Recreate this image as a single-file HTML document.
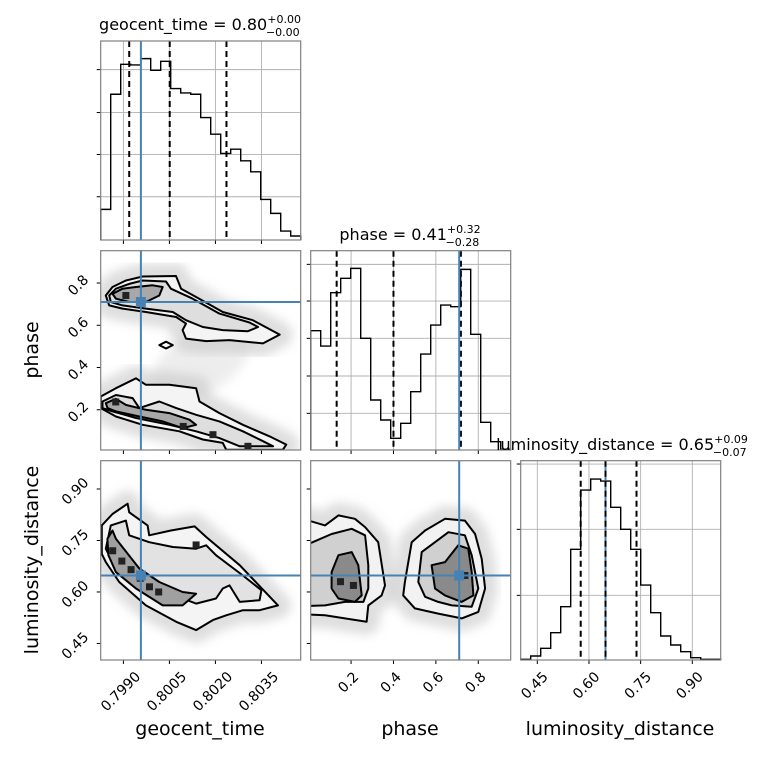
<!DOCTYPE html>
<html><head><meta charset="utf-8"><style>
html,body{margin:0;padding:0;background:#fff}
svg{display:block;font-family:"DejaVu Sans","Liberation Sans",sans-serif}
</style></head><body>
<svg id="fig" width="760" height="760" viewBox="0 0 760 760" xmlns="http://www.w3.org/2000/svg">
<defs>
<filter id="blur" x="-20%" y="-20%" width="140%" height="140%"><feGaussianBlur stdDeviation="5"/></filter>
<clipPath id="cA"><rect x="100.7" y="250.7" width="200" height="199.3"/></clipPath>
<clipPath id="cB"><rect x="100.7" y="460.7" width="200" height="199.3"/></clipPath>
<clipPath id="cC"><rect x="310.7" y="460.7" width="200" height="199.3"/></clipPath>
</defs>
</svg>
<script>
// ---------- data ----------
// geocent_time stored as u = (t - 0.7980) * 1e4
const gRange=[2.6,67.8], pRange=[0.0095,0.953], lRange=[0.4018,0.9824];
const histG=[92,438,528,526,545,510,537,455,442,438,368,318,260,273,238,205,122,80,27,12];
const histP=[358,312,472,515,545,335,150,90,35,80,175,288,375,435,430,542,347,83,25,2];
const histL=[2,12,35,82,160,332,510,543,537,458,392,332,225,142,72,45,25,7,2,2];
const histTop=598;
const histGTicks=[130,257,383,512];
const histPTicks=[110,222,335,447,557];
const histLTicks=[194,392,588];
const truthG=15.7, truthP=0.71, truthL=0.648;
const qG=[11.9,25.1,43.6], qP=[0.132,0.4,0.718], qL=[0.576,0.648,0.738];
const gTicks=[10,25,40,55], gTickLabels=["0.7990","0.8005","0.8020","0.8035"];
const pTicks=[0.2,0.4,0.6,0.8], pTickLabels=["0.2","0.4","0.6","0.8"];
const lTicks=[0.45,0.6,0.75,0.9], lTickLabels=["0.45","0.60","0.75","0.90"];
// contours panel A (u, phase)
const A_upOuter=[[4.27,0.741],[6.45,0.781],[10.81,0.812],[16.26,0.831],[27.16,0.833],[28.8,0.773],[33.7,0.734],[42.4,0.663],[52.2,0.624],[60.95,0.556],[55.5,0.514],[44.6,0.53],[37,0.525],[30.4,0.537],[29.3,0.577],[30.4,0.608],[27.2,0.639],[17.35,0.663],[9.72,0.679],[5.36,0.694]];
const A_upMid=[[5.36,0.741],[7.54,0.773],[11.9,0.796],[16.26,0.812],[23.9,0.807],[25.5,0.773],[32.6,0.726],[41.3,0.655],[51.1,0.613],[53.9,0.592],[50.6,0.572],[42.4,0.577],[35.9,0.592],[30.4,0.624],[26.1,0.663],[17.35,0.679],[9.72,0.694],[5.9,0.71]];
const A_upIn=[[6.45,0.749],[9.72,0.773],[14.1,0.781],[19.5,0.789],[22.8,0.781],[21.7,0.741],[17.35,0.71],[11.9,0.71],[7.54,0.726]];
const A_island=[[21.7,0.506],[23.9,0.522],[26.1,0.506],[23.9,0.49]];
const A_loOuter=[[2.64,0.263],[7.54,0.302],[14.1,0.349],[17.35,0.318],[25,0.318],[33.7,0.302],[34.8,0.239],[41.3,0.184],[48.96,0.129],[57.7,0.074],[63.1,0.035],[62,0.011],[43.5,0.011],[42.4,0.043],[35.9,0.059],[28.25,0.098],[16.26,0.129],[7.54,0.168],[2.64,0.208]];
const A_loMid=[[3.18,0.239],[7.54,0.27],[13,0.255],[15.17,0.208],[21.7,0.239],[27.2,0.208],[33.7,0.176],[41.3,0.145],[48.96,0.098],[55.5,0.051],[58.8,0.027],[47.9,0.027],[41.3,0.066],[33.7,0.098],[25,0.129],[14.1,0.161],[6.45,0.192],[3.18,0.208]];
const A_loIn=[[4.27,0.231],[7.54,0.252],[10.8,0.223],[17.35,0.2],[25,0.184],[31.5,0.153],[33.7,0.129],[29.3,0.113],[22.8,0.145],[15.17,0.168],[7.54,0.192],[4.81,0.208]];
const A_coreU=[10.8,7.5,39.2,50.6,29.5], A_coreV=[0.741,0.237,0.082,0.027,0.121];
// panel B (u, lum)
const B_outer=[[2.96,0.794],[6.45,0.827],[11.36,0.857],[11.9,0.832],[17.9,0.794],[18.4,0.765],[25.5,0.779],[33.2,0.791],[37,0.76],[47.9,0.678],[60.4,0.561],[54.4,0.547],[49,0.547],[43.5,0.532],[39.15,0.518],[33.7,0.489],[27.2,0.513],[17.35,0.561],[8.63,0.629],[4.27,0.687],[2.96,0.711]];
const B_mid=[[4.27,0.726],[5.9,0.794],[10.8,0.808],[11.9,0.765],[18.4,0.745],[26.1,0.731],[33.7,0.726],[37,0.736],[40.2,0.707],[48.96,0.648],[55,0.605],[54.4,0.576],[47.9,0.571],[44.6,0.619],[42.4,0.61],[40.2,0.581],[33.7,0.566],[29.3,0.581],[20.6,0.619],[11.9,0.648],[6.45,0.687]];
const B_in=[[4.8,0.755],[6.45,0.779],[7.54,0.755],[15.2,0.668],[21.7,0.629],[29.3,0.6],[33.7,0.595],[29.3,0.561],[22.8,0.561],[14.1,0.61],[7.54,0.658],[5.1,0.707]];
const B_coreU=[6.5,9.5,12.5,15.5,18.5,21.5,33.7], B_coreV=[0.72,0.69,0.665,0.64,0.615,0.6,0.737];
// panel C (phase, lum)
const C_lOuter=[[0.0,0.808],[0.077,0.794],[0.14,0.823],[0.218,0.813],[0.266,0.789],[0.328,0.745],[0.36,0.619],[0.344,0.59],[0.281,0.561],[0.273,0.513],[0.171,0.523],[0.077,0.532],[0.0,0.534]];
const C_lMid=[[0.0,0.74],[0.108,0.769],[0.203,0.784],[0.266,0.765],[0.281,0.678],[0.281,0.61],[0.258,0.571],[0.171,0.571],[0.077,0.561],[0.0,0.559]];
const C_lIn=[[0.108,0.658],[0.14,0.707],[0.203,0.716],[0.234,0.678],[0.25,0.59],[0.218,0.571],[0.14,0.581],[0.108,0.61]];
const C_rOuter=[[0.454,0.629],[0.486,0.745],[0.549,0.779],[0.643,0.813],[0.737,0.808],[0.785,0.769],[0.816,0.697],[0.832,0.61],[0.8,0.542],[0.722,0.523],[0.611,0.537],[0.501,0.552],[0.446,0.59]];
const C_rMid=[[0.517,0.629],[0.533,0.716],[0.596,0.745],[0.659,0.774],[0.737,0.765],[0.769,0.707],[0.8,0.61],[0.769,0.557],[0.675,0.561],[0.611,0.571],[0.549,0.586]];
const C_rIn=[[0.596,0.61],[0.58,0.678],[0.643,0.687],[0.706,0.736],[0.753,0.726],[0.769,0.658],[0.777,0.59],[0.722,0.571],[0.643,0.59]];
const C_coreP=[0.211,0.737,0.15], C_coreL=[0.619,0.648,0.63];

// ---------- drawing ----------
const svg=document.getElementById('fig');
const NS='http://www.w3.org/2000/svg';
function mk(tag,attrs,parent){const e=document.createElementNS(NS,tag);for(const k in attrs)e.setAttribute(k,attrs[k]);(parent||svg).appendChild(e);return e;}
function lin(d0,d1,r0,r1){return v=>r0+(v-d0)/(d1-d0)*(r1-r0);}
const cols=[[100.7,300.7],[310.7,510.7],[520.7,720.7]];
const rows=[[41,240],[250.7,450],[460.7,660]];
const sxG=lin(gRange[0],gRange[1],cols[0][0],cols[0][1]);
const sxP=lin(pRange[0],pRange[1],cols[1][0],cols[1][1]);
const sxL=lin(lRange[0],lRange[1],cols[2][0],cols[2][1]);
const syP=lin(pRange[0],pRange[1],rows[1][1],rows[1][0]);
const syL=lin(lRange[0],lRange[1],rows[2][1],rows[2][0]);
const BLUE='#4682b4';

function frame(c,r,name){
  const e=mk('rect',{x:cols[c][0],y:rows[r][0],width:200,height:rows[r][1]-rows[r][0],fill:'none',stroke:'#808080','stroke-width':1.2});
  
  
}
function grid(c,r,xs,sx,ys,sy,name){
  const g=mk('g',{});
  
  
  xs.forEach(v=>mk('line',{x1:sx(v),x2:sx(v),y1:rows[r][0],y2:rows[r][1],stroke:'#b0b0b0','stroke-width':0.9},g));
  ys.forEach(v=>mk('line',{x1:cols[c][0],x2:cols[c][1],y1:sy(v),y2:sy(v),stroke:'#b0b0b0','stroke-width':0.9},g));
}
function ticks(c,r,xs,sx,ys,sy){
  const g=mk('g',{stroke:'#000','stroke-width':1});
  
  
  xs.forEach(v=>mk('line',{x1:sx(v),x2:sx(v),y1:rows[r][1],y2:rows[r][1]+4},g));
  ys.forEach(v=>mk('line',{x1:cols[c][0]-4,x2:cols[c][0],y1:sy(v),y2:sy(v)},g));
}
function hist(c,vals,name){
  const x0=cols[c][0],x1=cols[c][1],r=c;
  const sy=lin(0,histTop,rows[r][1],rows[r][0]);
  const w=(x1-x0)/vals.length;
  let d='M'+x0+','+rows[r][1];
  vals.forEach((v,i)=>{d+=' L'+(x0+i*w)+','+sy(v)+' L'+(x0+(i+1)*w)+','+sy(v);});
  d+=' L'+x1+','+rows[r][1];
  const p=mk('path',{d:d,fill:'none',stroke:'#000','stroke-width':1.4});
  
  
  return sy;
}
function vline(x,r,name,dash,color){
  const e=mk('line',{x1:x,x2:x,y1:rows[r][0],y2:rows[r][1],stroke:color,'stroke-width':2,'stroke-dasharray':dash?'6,4':'none'});
  
  
}
function hline(y,c,name){
  const e=mk('line',{x1:cols[c][0],x2:cols[c][1],y1:y,y2:y,stroke:BLUE,'stroke-width':2});
  
  
}
function poly(pts,sx,sy,fill,g,name,halo){
  const d='M'+pts.map(p=>sx(p[0]).toFixed(1)+','+sy(p[1]).toFixed(1)).join(' L')+' Z';
  if(halo){const h=mk('path',{d:d,fill:'#cfcfcf',stroke:'#c4c4c4','stroke-width':26,'stroke-linejoin':'round',opacity:0.55,filter:'url(#blur)'},g);
    
    }
  const e=mk('path',{d:d,fill:fill,stroke:'#000','stroke-width':2,'stroke-linejoin':'round'},g);
  
  
}
function cores(us,vs,sx,sy,g,name){
  us.forEach((u,i)=>{const e=mk('rect',{x:sx(u)-3.5,y:sy(vs[i])-3.5,width:7,height:7,fill:'#222'},g);
    
    });
}
const gx=u=>sxG(u);

// --- diag 1
grid(0,0,gTicks,sxG,histGTicks,lin(0,histTop,rows[0][1],rows[0][0]),'grid-geocent-hist');
hist(0,histG,'hist-geocent-time');
ticks(0,0,gTicks,sxG,histGTicks,lin(0,histTop,rows[0][1],rows[0][0]));
qG.forEach((q,i)=>vline(sxG(q),0,'quantile-geocent-'+i,true,'#000'));
vline(sxG(truthG),0,'truth-geocent',false,BLUE);
frame(0,0,'panel-geocent-hist');
// --- diag 2
grid(1,1,pTicks,sxP,histPTicks,lin(0,histTop,rows[1][1],rows[1][0]),'grid-phase-hist');
hist(1,histP,'hist-phase');
ticks(1,1,pTicks,sxP,histPTicks,lin(0,histTop,rows[1][1],rows[1][0]));
qP.forEach((q,i)=>vline(sxP(q),1,'quantile-phase-'+i,true,'#000'));
vline(sxP(truthP),1,'truth-phase',false,BLUE);
frame(1,1,'panel-phase-hist');
// --- diag 3
grid(2,2,lTicks,sxL,histLTicks,lin(0,histTop,rows[2][1],rows[2][0]),'grid-lum-hist');
hist(2,histL,'hist-luminosity-distance');
ticks(2,2,lTicks,sxL,histLTicks,lin(0,histTop,rows[2][1],rows[2][0]));
vline(sxL(truthL),2,'truth-luminosity',false,BLUE);
qL.forEach((q,i)=>vline(sxL(q),2,'quantile-lum-'+i,true,'#000'));
frame(2,2,'panel-lum-hist');

// --- panel A
let gA=mk('g',{'clip-path':'url(#cA)'});


mk('ellipse',{cx:sxG(35),cy:syP(0.42),rx:55,ry:30,fill:'#d8d8d8',opacity:0.45,filter:'url(#blur)',transform:'rotate(-30 '+sxG(35)+' '+syP(0.42)+')'},gA);
poly(A_upOuter,gx,syP,'#f4f4f4',gA,'contour-a-upper-outer',true);
poly(A_loOuter,gx,syP,'#f4f4f4',gA,'contour-a-lower-outer',true);
poly(A_upMid,gx,syP,'#dedede',gA,'contour-a-upper-mid');
poly(A_loMid,gx,syP,'#dedede',gA,'contour-a-lower-mid');
poly(A_upIn,gx,syP,'#a8a8a8',gA,'contour-a-upper-inner');
poly(A_loIn,gx,syP,'#a8a8a8',gA,'contour-a-lower-inner');
poly(A_island,gx,syP,'#fff',gA,'contour-a-island');
cores(A_coreU,A_coreV,gx,syP,gA,'density-peak');
ticks(0,1,gTicks,sxG,pTicks,syP);
vline(sxG(truthG),1,'truth-geocent-a',false,BLUE);
hline(syP(truthP),0,'truth-phase-a');
mk('rect',{x:sxG(truthG)-5,y:syP(truthP)-5,width:10,height:10,fill:BLUE});
frame(0,1,'panel-geocent-phase');

// --- panel B
let gB=mk('g',{'clip-path':'url(#cB)'});


poly(B_outer,gx,syL,'#f4f4f4',gB,'contour-b-outer',true);
poly(B_mid,gx,syL,'#e2e2e2',gB,'contour-b-mid');
poly(B_in,gx,syL,'#a0a0a0',gB,'contour-b-inner');
cores(B_coreU,B_coreV,gx,syL,gB,'density-peak');
ticks(0,2,gTicks,sxG,lTicks,syL);
vline(sxG(truthG),2,'truth-geocent-b',false,BLUE);
hline(syL(truthL),0,'truth-lum-b');
mk('rect',{x:sxG(truthG)-5,y:syL(truthL)-5,width:10,height:10,fill:BLUE});
frame(0,2,'panel-geocent-lum');

// --- panel C
let gC=mk('g',{'clip-path':'url(#cC)'});


poly(C_lOuter,sxP,syL,'#f2f2f2',gC,'contour-c-left-outer',true);
poly(C_rOuter,sxP,syL,'#f2f2f2',gC,'contour-c-right-outer',true);
poly(C_lMid,sxP,syL,'#d0d0d0',gC,'contour-c-left-mid');
poly(C_rMid,sxP,syL,'#d0d0d0',gC,'contour-c-right-mid');
poly(C_lIn,sxP,syL,'#8a8a8a',gC,'contour-c-left-inner');
poly(C_rIn,sxP,syL,'#8a8a8a',gC,'contour-c-right-inner');
cores(C_coreP,C_coreL,sxP,syL,gC,'density-peak');
ticks(1,2,pTicks,sxP,lTicks,syL);
vline(sxP(truthP),2,'truth-phase-c',false,BLUE);
hline(syL(truthL),1,'truth-lum-c');
mk('rect',{x:sxP(truthP)-5,y:syL(truthL)-5,width:10,height:10,fill:BLUE});
frame(1,2,'panel-phase-lum');

// ---------- labels ----------
function txt(x,y,s,size,opts){
  const e=mk('text',Object.assign({x:x,y:y,'font-size':size,fill:'#000','text-anchor':'middle'},opts||{}));
  e.textContent=s;return e;
}
function xTickLabels(ticksArr,labels,sx,baseY,name){
  ticksArr.forEach((v,i)=>{
    const L=labels[i].length*8.6;
    const off=(L+14)*0.707/2;
    const cx=sx(v)-3, cy=baseY+off;
    const e=txt(cx,cy+5,labels[i],14,{transform:'rotate(-45 '+cx+' '+cy+')'});
    
    
  });
}
function yTickLabels(ticksArr,labels,sy,baseX,name){
  ticksArr.forEach((v,i)=>{
    const L=labels[i].length*8.6;
    const off=(L+14)*0.707/2;
    const cx=baseX-off, cy=sy(v)+2;
    const e=txt(cx,cy+5,labels[i],14,{transform:'rotate(-45 '+cx+' '+cy+')'});
    
    
  });
}
xTickLabels(gTicks,gTickLabels,sxG,668,'x-tick-label-geocent');
xTickLabels(pTicks,pTickLabels,sxP,668,'x-tick-label-phase');
xTickLabels(lTicks,lTickLabels,sxL,668,'x-tick-label-lum');
yTickLabels(pTicks,pTickLabels,syP,92,'y-tick-label-phase');
yTickLabels(lTicks,lTickLabels,syL,92,'y-tick-label-lum');

let t;
t=txt(200,735,'geocent_time',19);
t=txt(410,735,'phase',19);
t=txt(620,735,'luminosity_distance',19);
t=txt(38,350,'phase',19,{transform:'rotate(-90 38 350)'});
t=txt(38,560,'luminosity_distance',19,{transform:'rotate(-90 38 560)'});

function title(x,y,main,up,dn,name){
  const e=mk('text',{x:x,y:y,'font-size':16,fill:'#000','text-anchor':'middle'});
  
  
  const a=mk('tspan',{},e);a.textContent=main;
  const b=mk('tspan',{'font-size':11,dy:-7},e);b.textContent=up;
  const w=up.length*7;
  const c=mk('tspan',{'font-size':11,dx:-w,dy:13},e);c.textContent=dn;
}
title(200,30,'geocent_time = 0.80','+0.00','\u22120.00','title-geocent');
title(410,240,'phase = 0.41','+0.32','\u22120.28','title-phase');
title(622,450,'luminosity_distance = 0.65','+0.09','\u22120.07','title-lum');
</script>
</body></html>
